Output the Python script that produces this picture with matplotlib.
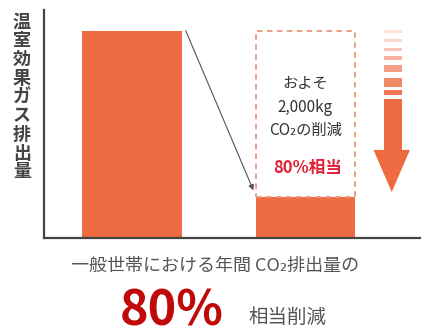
import matplotlib.pyplot as plt
from matplotlib.patches import Rectangle, Polygon

plt.rcParams["font.family"] = ["Noto Sans CJK JP", "DejaVu Sans"]

# data
categories = ["before", "after"]
values = [100, 20]          # relative emissions (80% reduction)
ylabel = "温室効果ガス排出量"
box_lines = ["およそ", "2,000kg", "CO₂の削減"]
box_highlight = "80%相当"
caption = "一般世帯における年間 CO₂排出量の"
big_number = "80%"
big_suffix = "相当削減"

ORANGE = "#EE6A40"
GRAY = "#444444"

W, H = 427, 336
fig = plt.figure(figsize=(W / 100, H / 100), dpi=100)


def fx(px):
    return px / W


def fy(py):
    return 1 - py / H


ax = fig.add_axes([fx(44), fy(238), fx(420) - fx(44), fy(10) - fy(238)])
x = [0, 1]
ax.bar(x, values, width=0.576, color=ORANGE, zorder=2)
ax.set_xlim(-0.507, 1.66)
ax.set_ylim(0, 110)

# dashed outline of the removed part
ax.add_patch(Rectangle((1 - 0.288, values[1]), 0.576, values[0] - values[1],
                       fill=False, ec="#E9967A", lw=1.3, ls=(0, (3, 2.5)), zorder=3))

# diagonal pointer from the first bar top to the second bar top
ax.annotate("", xy=(0.70, values[1] + 3), xytext=(0.31, values[0]),
            arrowprops=dict(arrowstyle="-|>", color="#555555", lw=0.8,
                            mutation_scale=8, shrinkA=0, shrinkB=0), zorder=4)

# text inside the dashed box
for txt, yv in zip(box_lines, [74.5, 63, 52]):
    ax.text(1, yv, txt, ha="center", va="center", fontsize=11, color="#333333")
ax.text(1.01, 34, box_highlight, ha="center", va="center", fontsize=12,
        color="#E3233A", fontweight="bold")

# striped down-arrow on the right
ax_x = 1.507
shaft_half = 0.052
stripes = [(99.0, 100.5), (94.7, 96.1), (90.3, 91.8), (86.0, 87.9),
           (80.2, 83.6), (72.9, 77.3), (69.1, 71.5)]
alphas = [0.2, 0.28, 0.38, 0.5, 0.65, 0.8, 0.9]
for (y0, y1), a in zip(stripes, alphas):
    ax.add_patch(Rectangle((ax_x - shaft_half, y0), 2 * shaft_half, y1 - y0,
                           color=ORANGE, alpha=a, lw=0, zorder=2))
head_top, tip = 42.5, 22.2
ax.add_patch(Rectangle((ax_x - shaft_half, head_top), 2 * shaft_half, 67.1 - head_top,
                       color=ORANGE, lw=0, zorder=2))
ax.add_patch(Polygon([(ax_x - 0.115, head_top), (ax_x + 0.095, head_top), (ax_x - 0.01, tip)],
                     closed=True, color=ORANGE, lw=0, zorder=2))

for s in ["top", "right"]:
    ax.spines[s].set_visible(False)
for s in ["left", "bottom"]:
    ax.spines[s].set_color(GRAY)
    ax.spines[s].set_linewidth(1.6)
ax.set_xticks([])
ax.set_yticks([])

# vertical y label, one upright character per line
n = len(ylabel)
for i, ch in enumerate(ylabel):
    py = 22 + i * (172 - 22) / (n - 1)
    fig.text(fx(22), fy(py), ch, ha="center", va="center", fontsize=13,
             color=GRAY, fontweight="bold")

fig.text(fx(215), fy(266), caption, ha="center", va="center", fontsize=13, color="#555555")
fig.text(fx(120), fy(326), big_number, ha="left", va="baseline", fontsize=35,
         color="#C00A0A", fontweight="bold")
fig.text(fx(248), fy(323), big_suffix, ha="left", va="baseline", fontsize=14,
         color="#555555")

fig.savefig("out.png", dpi=100)
